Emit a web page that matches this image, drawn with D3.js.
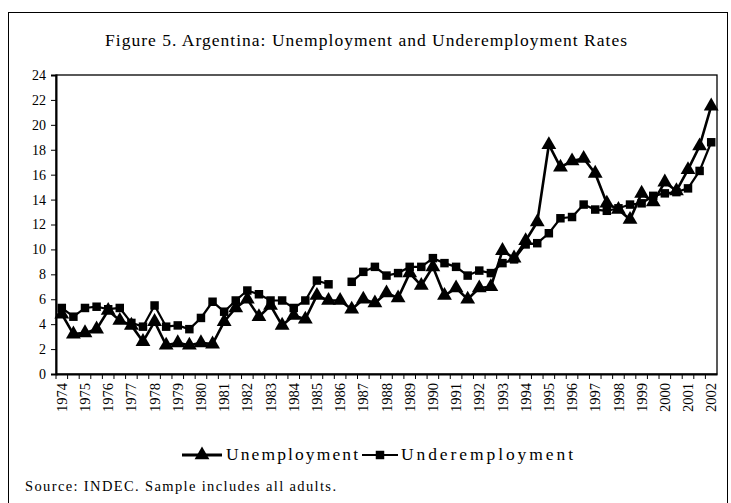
<!DOCTYPE html>
<html lang="en">
<head>
  <meta charset="UTF-8">
  <title>Figure 5. Argentina: Unemployment and Underemployment Rates</title>
  <style>
    body, html {
      margin: 0;
      padding: 0;
      background: #fff;
    }
    svg text {
      font-family: "Liberation Serif", "Times New Roman", serif;
      fill: #000;
    }
  </style>
</head>
<body>
  <svg id="svg" width="731" height="503"></svg>
  <script src="https://d3js.org/d3.v7.min.js"></script>
  <script>
    // survey waves: May and October of each year, 1974 to May 2002
    const years = d3.range(1974, 2003)
    const periods = years.flatMap(y => y < 2002 ? [y + ' May', y + ' Oct'] : [y + ' May'])

    const unemployment = [
      4.8, 3.2, 3.3, 3.6, 5.1, 4.3, 3.9, 2.6, 4.2, 2.3,
      2.5, 2.3, 2.5, 2.4, 4.2, 5.3, 6.0, 4.6, 5.5, 3.9,
      4.7, 4.4, 6.3, 5.9, 5.9, 5.2, 6.0, 5.7, 6.5, 6.1,
      8.1, 7.1, 8.6, 6.3, 6.9, 6.0, 6.9, 7.0, 9.9, 9.3,
      10.7, 12.2, 18.4, 16.6, 17.1, 17.3, 16.1, 13.7, 13.2, 12.4,
      14.5, 13.8, 15.4, 14.7, 16.4, 18.3, 21.5
    ]

    // October 1985 underemployment missing in the source
    const underemployment = [
      5.3, 4.6, 5.3, 5.4, 5.2, 5.3, 4.1, 3.8, 5.5, 3.8,
      3.9, 3.6, 4.5, 5.8, 5.0, 5.9, 6.7, 6.4, 5.9, 5.9,
      5.3, 5.9, 7.5, 7.2, null, 7.4, 8.2, 8.6, 7.9, 8.1,
      8.6, 8.6, 9.3, 8.9, 8.6, 7.9, 8.3, 8.1, 8.9, 9.2,
      10.4, 10.5, 11.3, 12.5, 12.6, 13.6, 13.2, 13.1, 13.3, 13.6,
      13.7, 14.3, 14.5, 14.6, 14.9, 16.3, 18.6
    ]

    const yTicks = d3.range(0, 25, 2)

    const width = 731
    const height = 503
    const margin = { top: 75, right: 14, bottom: 129, left: 56 }

    const svg = d3.select('#svg')

    // outer frame
    svg.append('rect')
      .attr('x', 8.5)
      .attr('y', 12.5)
      .attr('width', 719)
      .attr('height', 500)
      .attr('fill', 'none')
      .attr('stroke', '#000')
      .attr('stroke-width', 1)

    svg.append('text')
      .attr('x', 366)
      .attr('y', 46)
      .attr('text-anchor', 'middle')
      .attr('textLength', 522)
      .attr('lengthAdjust', 'spacing')
      .style('font-size', '17.5px')
      .text('Figure 5. Argentina: Unemployment and Underemployment Rates')

    const x = d3.scaleBand()
      .domain(periods)
      .range([margin.left, width - margin.right])
      .padding(0)

    const y = d3.scaleLinear()
      .domain([0, 24])
      .range([height - margin.bottom, margin.top])

    const cx = d => x(d) + x.bandwidth() / 2

    // plot border
    svg.append('rect')
      .attr('x', margin.left)
      .attr('y', margin.top)
      .attr('width', width - margin.right - margin.left)
      .attr('height', height - margin.bottom - margin.top)
      .attr('fill', 'none')
      .attr('stroke', '#000')
      .attr('stroke-width', 1.3)

    // y axis
    const yAxis = svg.append('g')
      .attr('transform', `translate(${margin.left}, 0)`)
      .call(d3.axisLeft(y).tickValues(yTicks).tickSize(5).tickPadding(5))
    yAxis.select('.domain').attr('stroke-width', 2)
    yAxis.selectAll('text')
      .style('font-family', '"Liberation Serif", serif')
      .style('font-size', '14px')

    // x axis: labels on the May waves, ticks on the band edges
    const xAxis = svg.append('g')
      .attr('transform', `translate(0, ${height - margin.bottom})`)
      .call(d3.axisBottom(x).tickSize(0).tickPadding(0)
        .tickFormat(d => d.endsWith('May') ? d.slice(0, 4) : ''))
    xAxis.select('.domain').attr('stroke-width', 2)
    xAxis.selectAll('text')
      .attr('transform', 'rotate(-90)')
      .attr('x', -9)
      .attr('y', 0)
      .attr('dy', '0.35em')
      .style('text-anchor', 'end')
      .style('font-family', '"Liberation Serif", serif')
      .style('font-size', '14.5px')

    svg.append('g')
      .selectAll('line')
      .data(periods)
      .enter()
      .append('line')
      .attr('x1', d => x(d))
      .attr('x2', d => x(d))
      .attr('y1', height - margin.bottom)
      .attr('y2', height - margin.bottom + 5)
      .attr('stroke', '#000')

    const rows = periods.map((p, i) => ({ p, u: unemployment[i], s: underemployment[i] }))

    const triangle = d3.symbol().type(d3.symbolTriangle).size(95)
    const square = d3.symbol().type(d3.symbolSquare).size(72)

    // underemployment line with square markers
    const lineS = d3.line()
      .defined(d => d.s !== null)
      .x(d => cx(d.p))
      .y(d => y(d.s))
    svg.append('path')
      .datum(rows)
      .attr('d', lineS)
      .attr('fill', 'none')
      .attr('stroke', '#000')
      .attr('stroke-width', 2.2)

    svg.append('g')
      .selectAll('path')
      .data(rows.filter(d => d.s !== null))
      .enter()
      .append('path')
      .attr('d', square)
      .attr('transform', d => `translate(${cx(d.p)}, ${y(d.s)})`)
      .attr('fill', '#000')

    // unemployment line with triangle markers
    const lineU = d3.line()
      .x(d => cx(d.p))
      .y(d => y(d.u))
    svg.append('path')
      .datum(rows)
      .attr('d', lineU)
      .attr('fill', 'none')
      .attr('stroke', '#000')
      .attr('stroke-width', 2.6)

    svg.append('g')
      .selectAll('path')
      .data(rows)
      .enter()
      .append('path')
      .attr('d', triangle)
      .attr('transform', d => `translate(${cx(d.p)}, ${y(d.u)})`)
      .attr('fill', '#000')

    // legend
    const legend = svg.append('g').attr('transform', 'translate(0, 455)')
    legend.append('line')
      .attr('x1', 182).attr('x2', 222)
      .attr('stroke', '#000').attr('stroke-width', 3)
    legend.append('path')
      .attr('d', triangle)
      .attr('transform', 'translate(202, 0)')
    legend.append('text')
      .attr('x', 226).attr('y', 5)
      .attr('textLength', 132)
      .attr('lengthAdjust', 'spacing')
      .style('font-size', '17.5px')
      .text('Unemployment')

    legend.append('line')
      .attr('x1', 362).attr('x2', 398)
      .attr('stroke', '#000').attr('stroke-width', 2)
    legend.append('path')
      .attr('d', square)
      .attr('transform', 'translate(380, 0)')
    legend.append('text')
      .attr('x', 401).attr('y', 5)
      .attr('textLength', 172)
      .attr('lengthAdjust', 'spacing')
      .style('font-size', '17.5px')
      .text('Underemployment')

    svg.append('text')
      .attr('x', 25)
      .attr('y', 491)
      .attr('textLength', 311)
      .attr('lengthAdjust', 'spacing')
      .style('font-size', '14.5px')
      .text('Source: INDEC. Sample includes all adults.')
  </script>
</body>
</html>
